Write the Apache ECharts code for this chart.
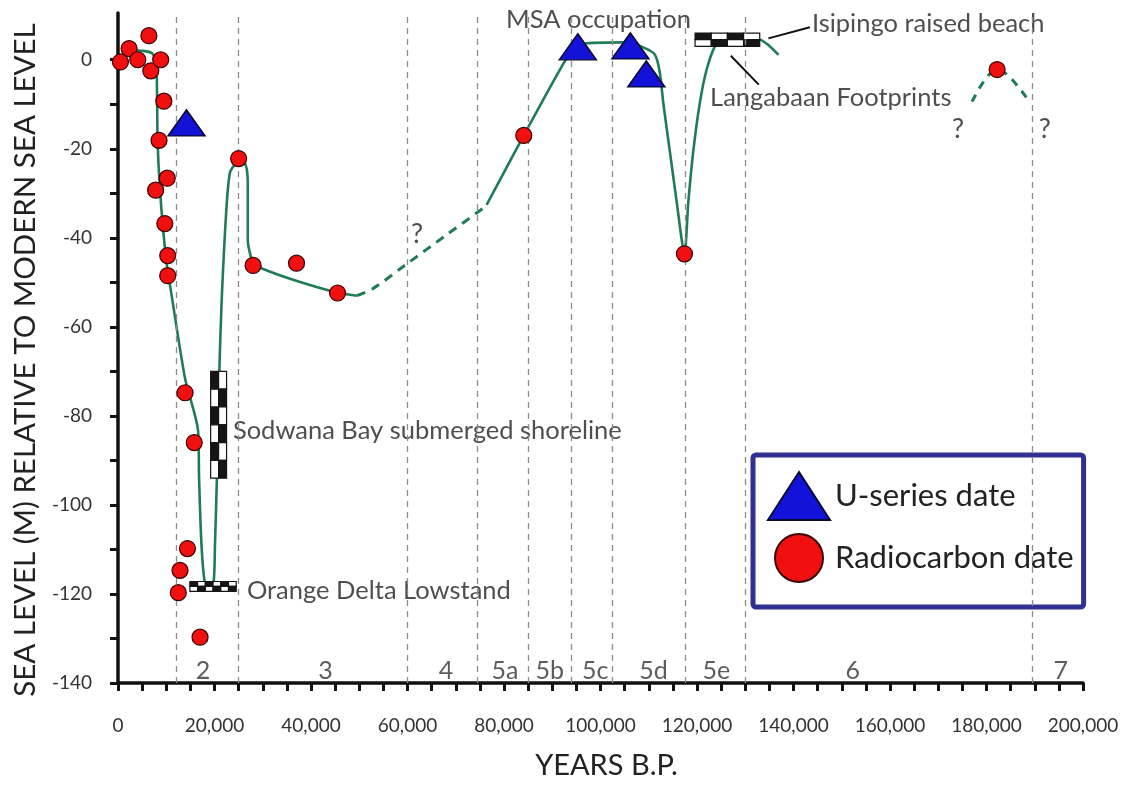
<!DOCTYPE html>
<html><head><meta charset="utf-8">
<script src="https://cdn.jsdelivr.net/npm/echarts@6/dist/echarts.min.js"></script>
<style>html,body{margin:0;padding:0;background:#fff}#chart{width:1128px;height:785px}</style>
</head><body><div id="chart"></div>
<script>
// ---------------- DATA (years B.P., metres) ----------------
const radiocarbonX = [500, 2300, 4100, 6400, 6800, 8850, 9500, 8500, 10200, 7800, 9700, 10300, 10300,
  13900, 15800, 14400, 12850, 12500, 17000, 25000, 28000, 37000, 45500, 84100, 117400, 182200];
const radiocarbonY = [-0.5, 2.5, 0, 5.4, -2.5, 0, -9.3, -18.1, -26.6, -29.3, -36.8, -44, -48.5,
  -74.8, -86, -109.8, -114.7, -119.7, -129.7, -22.2, -46.2, -45.7, -52.4, -17, -43.6, -2.2];

const useriesX = [14200, 95300, 106200, 109500];
const useriesY = [-14.2, 2.9, 3.1, -3.2];

// sea-level curve, solid part 1 (0 - 49.5 ka)
const curveAX = [2100, 5200, 7000, 7900, 8100, 8200, 8600, 9400, 10400, 10800, 13900, 16600, 16800, 17300,
  18000, 18900, 19800, 20100, 20500, 21000, 21500, 22500, 23200, 24200, 25000, 26100, 26700, 26900, 26900,
  28000, 30100, 37100, 45400, 49500];
const curveAY = [2.2, 2.0, 1.5, -0.4, -8.9, -17.9, -27.5, -38.7, -48.5, -50.8, -71.6, -83.4, -93.9, -108.9,
  -117.4, -117.9, -117.4, -108.9, -93.9, -70, -53.7, -32.9, -25.3, -23.5, -22.6, -23, -24.6, -28.4, -40.3,
  -45.6, -47, -49.7, -52.3, -53];
// dashed (uncertain) part 1
const curveBX = [49500, 53000, 59800, 68000, 76400];
const curveBY = [-53, -51.3, -45.9, -39.4, -32.8];
// solid part 2 (76 - 137 ka)
const curveCX = [76400, 84100, 91600, 94300, 97100, 105400, 109200, 111300, 112300, 113000, 114400, 115800,
  117400, 118200, 119200, 120600, 122000, 123700, 124800, 128900, 133000, 135100, 136900];
const curveCY = [-32.6, -17, -2.2, 2.2, 3.7, 3.9, 2.6, 1.1, -2.9, -9.6, -20.8, -32, -43.6, -32, -20.8, -9.6,
  -2.2, 3, 4, 4.5, 4.5, 3, 1.1];
// dashed (uncertain) part 2 (MIS 6/7)
const curveDX = [177000, 179700, 182200, 184900, 189000];
const curveDY = [-9.4, -4.5, -2.2, -4, -9.6];

// marine isotope stage boundaries and labels
const misBoundaries = [12000, 25000, 60000, 74500, 85000, 94000, 102500, 117500, 130000, 189500];
const misLabels = ['2', '3', '4', '5a', '5b', '5c', '5d', '5e', '6', '7'];
const misLabelX = [17600, 43000, 68000, 80200, 89500, 98900, 111000, 124000, 152300, 195400];

// checkered shoreline markers: [x range], [y range]
const sodwanaX = [19200, 22500], sodwanaY = [-70, -94];
const orangeX = [14900, 24500], orangeY = [-117.2, -119.4];
const isipingoX = [119600, 133000], isipingoY = [6.0, 3.0];

// annotations
const noteText = ['Sodwana Bay submerged shoreline', 'Orange Delta Lowstand', 'MSA occupation',
  'Isipingo raised beach', 'Langabaan Footprints'];
const noteX = [23800, 26700, 80400, 143800, 122700];
const noteY = [-83.4, -119.2, 8.9, 8.05, -8.5];
const queryX = [62000, 174100, 192100];
const queryY = [-39.1, -15.7, -15.7];
const arrowFrom = [[143400, 7.3], [132800, -5.6]];
const arrowTo = [[134800, 4.8], [127000, 0.9]];

// axis ticks
const xTickValues = [];
for (let v = 0; v <= 200000; v += 5000) xTickValues.push(v);
const xLabelValues = [0, 20000, 40000, 60000, 80000, 100000, 120000, 140000, 160000, 180000, 200000];
const xTickLabels = ['0', '20,000', '40,000', '60,000', '80,000', '100,000', '120,000', '140,000', '160,000', '180,000', '200,000'];
const yTickValues = [];
for (let v = -140; v <= 0; v += 10) yTickValues.push(v);
const yLabelValues = [-140, -120, -100, -80, -60, -40, -20, 0];
const yTickLabels = ['-140', '-120', '-100', '-80', '-60', '-40', '-20', '0'];

// ---------------- BUILD ----------------
const FONT = 'Lato';
const pair = (xs, ys) => xs.map((x, i) => [x, ys[i]]);

function checker(xr, yr, cols, rows) {
  const out = [];
  for (let r = 0; r < rows; r++) {
    for (let c = 0; c < cols; c++) {
      const x0 = xr[0] + (xr[1] - xr[0]) * c / cols;
      const x1 = xr[0] + (xr[1] - xr[0]) * (c + 1) / cols;
      const y0 = yr[0] + (yr[1] - yr[0]) * r / rows;
      const y1 = yr[0] + (yr[1] - yr[0]) * (r + 1) / rows;
      out.push([x0, x1, y0, y1, (r + c) % 2 === 0 ? 1 : 0]);
    }
  }
  return out;
}
const checkerData = [].concat(
  checker(sodwanaX, sodwanaY, 2, 6),
  checker(orangeX, orangeY, 6, 2),
  checker(isipingoX, isipingoY, 4, 2)
);

const GREEN = '#1f7d55';
const chart = echarts.init(document.getElementById('chart'), null, { renderer: 'canvas' });
chart.setOption({
  backgroundColor: '#ffffff',
  animation: false,
  textStyle: { fontFamily: FONT },
  grid: { left: 118, right: 45, top: 13, bottom: 99, containLabel: false },
  legend: {
    orient: 'vertical', left: 753, top: 455,
    data: ['U-series date', 'Radiocarbon date'],
    selectedMode: false,
    itemWidth: 62, itemHeight: 48, itemGap: 12,
    padding: [16, 10, 24, 14],
    borderColor: '#2e3192', borderWidth: 5, borderRadius: 3,
    backgroundColor: '#ffffff',
    textStyle: { fontFamily: FONT, fontSize: 31, color: '#222' }
  },
  xAxis: {
    type: 'value', min: 0, max: 200000,
    name: 'YEARS B.P.', nameLocation: 'middle', nameGap: 68,
    nameTextStyle: { fontFamily: FONT, fontSize: 29, color: '#222', padding: [0, 0, 0, 12] },
    axisLine: { show: true, onZero: false, lineStyle: { color: '#111', width: 3.5 } },
    axisTick: { show: true, inside: false, length: 8, customValues: xTickValues, lineStyle: { color: '#111', width: 3 } },
    axisLabel: {
      show: true, margin: 33, customValues: xLabelValues,
      formatter: v => xTickLabels[xLabelValues.indexOf(v)],
      fontFamily: FONT, fontSize: 19, color: '#333'
    },
    splitLine: { show: false }
  },
  yAxis: {
    type: 'value', min: -140, max: 10.5,
    name: 'SEA LEVEL (M) RELATIVE TO MODERN SEA LEVEL', nameLocation: 'middle', nameGap: 70,
    nameTextStyle: { fontFamily: FONT, fontSize: 29.5, color: '#222', padding: [0, 24, 0, 0] },
    axisLine: { show: true, onZero: false, lineStyle: { color: '#111', width: 3.5 } },
    axisTick: { show: true, inside: false, length: 8, customValues: yTickValues, lineStyle: { color: '#111', width: 3 } },
    axisLabel: {
      show: true, margin: 26, customValues: yLabelValues,
      formatter: v => yTickLabels[yLabelValues.indexOf(v)],
      fontFamily: FONT, fontSize: 19, color: '#333'
    },
    splitLine: { show: false }
  },
  series: [
    {
      name: 'MIS', type: 'scatter', silent: true, z: 1,
      symbol: 'circle', symbolSize: 1, itemStyle: { color: 'rgba(0,0,0,0)' },
      data: misLabelX.map((x, i) => [x, -137.3, misLabels[i]]),
      label: { show: true, position: 'inside', formatter: p => p.data[2], fontFamily: FONT, fontSize: 25, color: '#333' },
      markLine: {
        silent: true, symbol: ['none', 'none'], label: { show: false },
        lineStyle: { type: [6, 5], color: '#8c8c8c', width: 1.3 },
        data: misBoundaries.map(v => ({ xAxis: v }))
      }
    },
    { name: 'curveA', type: 'line', data: pair(curveAX, curveAY), showSymbol: false, smooth: 0.25, z: 2, silent: true,
      lineStyle: { color: GREEN, width: 2.6 } },
    { name: 'curveB', type: 'line', data: pair(curveBX, curveBY), showSymbol: false, smooth: 0.3, z: 2, silent: true,
      lineStyle: { color: GREEN, width: 3, type: [9, 7] } },
    { name: 'curveC', type: 'line', data: pair(curveCX, curveCY), showSymbol: false, smooth: 0.25, z: 2, silent: true,
      lineStyle: { color: GREEN, width: 2.6 } },
    { name: 'curveD', type: 'line', data: pair(curveDX, curveDY), showSymbol: false, smooth: 0.4, z: 2, silent: true,
      lineStyle: { color: GREEN, width: 3, type: [8, 7] } },
    {
      name: 'markers', type: 'custom', z: 4, silent: true, clip: false,
      encode: { x: [0, 1], y: [2, 3] },
      data: checkerData,
      renderItem: (params, api) => {
        const p0 = api.coord([api.value(0), api.value(2)]);
        const p1 = api.coord([api.value(1), api.value(3)]);
        return {
          type: 'rect',
          shape: { x: Math.min(p0[0], p1[0]), y: Math.min(p0[1], p1[1]), width: Math.abs(p1[0] - p0[0]), height: Math.abs(p1[1] - p0[1]) },
          style: { fill: api.value(4) ? '#151515' : '#ffffff', stroke: '#151515', lineWidth: 1.2 }
        };
      }
    },
    {
      name: 'notes', type: 'scatter', silent: true, z: 3,
      symbol: 'circle', symbolSize: 0.1, itemStyle: { color: 'rgba(0,0,0,0)' },
      data: noteX.map((x, i) => [x, noteY[i], noteText[i]]),
      label: { show: true, position: 'right', distance: 0, formatter: p => p.data[2], fontFamily: FONT, fontSize: 25.5, color: '#222' },
      markLine: {
        silent: true, symbol: ['none', 'arrow'], symbolSize: [0, 13], label: { show: false },
        lineStyle: { type: 'solid', color: '#111', width: 2 },
        data: arrowFrom.map((f, i) => [{ coord: f }, { coord: arrowTo[i] }])
      }
    },
    {
      name: 'queries', type: 'scatter', silent: true, z: 3,
      symbol: 'circle', symbolSize: 0.1, itemStyle: { color: 'rgba(0,0,0,0)' },
      data: pair(queryX, queryY),
      label: { show: true, position: 'inside', formatter: '?', fontFamily: FONT, fontSize: 27, color: '#222' }
    },
    {
      name: 'Radiocarbon date', type: 'scatter', z: 6,
      symbol: 'circle', symbolSize: 16,
      itemStyle: { color: '#f01010', borderColor: '#3a0000', borderWidth: 1.2, opacity: 1 },
      data: pair(radiocarbonX, radiocarbonY)
    },
    {
      name: 'U-series date', type: 'scatter', z: 6,
      symbol: 'triangle', symbolSize: [37, 26],
      itemStyle: { color: '#1212d8', borderColor: '#0a0a30', borderWidth: 1.5, opacity: 1 },
      data: pair(useriesX, useriesY)
    }
  ]
});
</script></body></html>
